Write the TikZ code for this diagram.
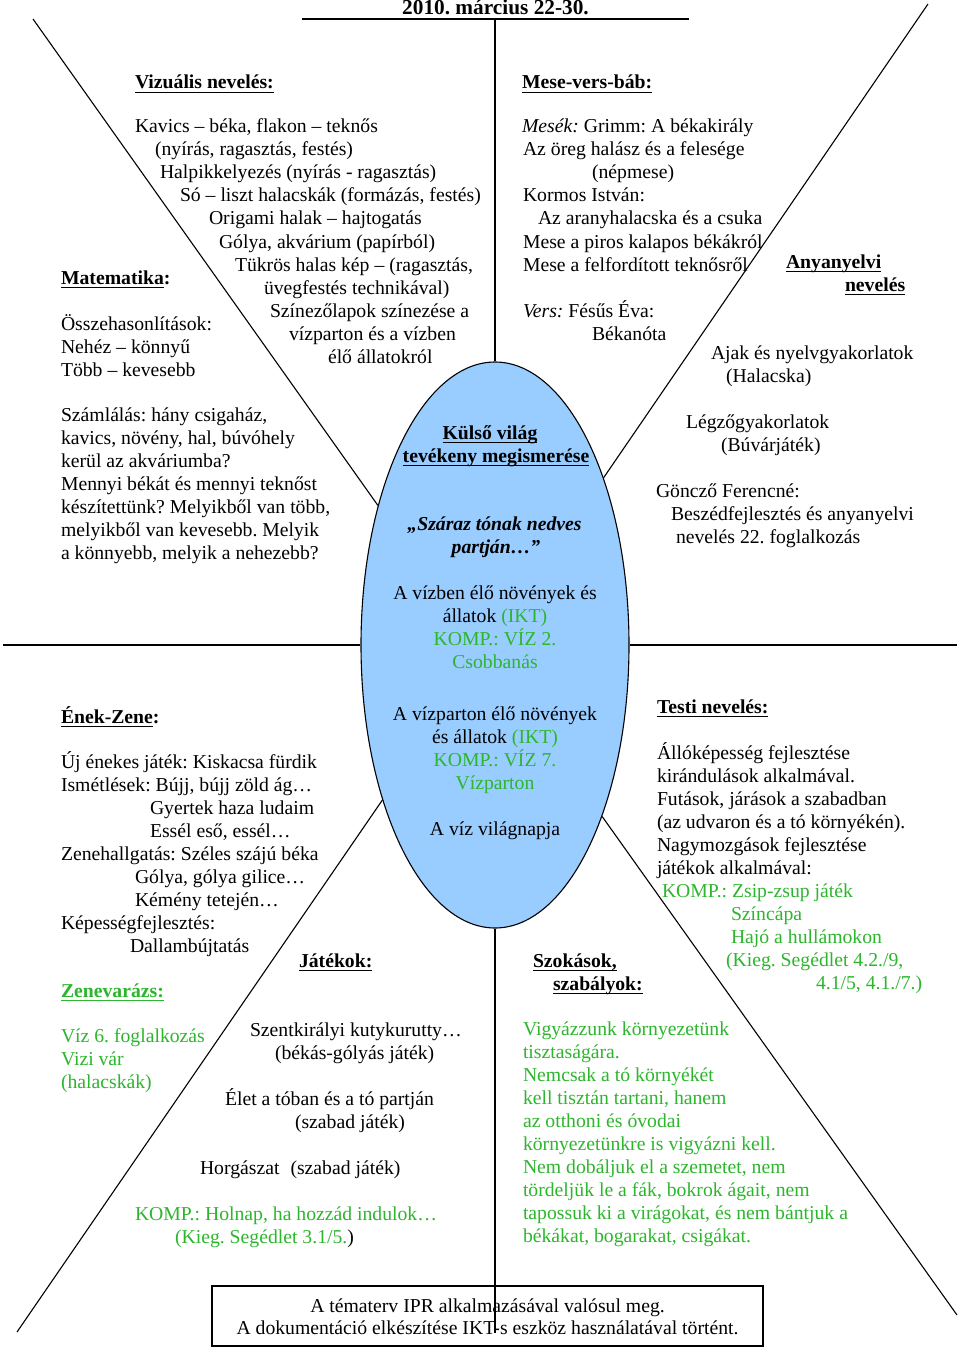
\documentclass[tikz,border=0pt]{standalone}
\usepackage{fontspec}
\setmainfont{Liberation Serif}
\usetikzlibrary{shapes.geometric}
\definecolor{kgreen}{RGB}{45,182,45}
\definecolor{ellblue}{RGB}{153,204,255}
\newcommand\ulx[1]{\setbox0\hbox{#1}\rlap{\rule[-4.2pt]{\wd0}{1.6pt}}\box0}
\newcommand\fsz{\fontsize{19.7}{23}\selectfont\frenchspacing}
\begin{document}
\begin{tikzpicture}[x=1pt,y=-1pt,
  tx/.style={anchor=base west,inner sep=0pt,outer sep=0pt,font=\fsz},
  txc/.style={anchor=base,inner sep=0pt,outer sep=0pt,font=\fsz},
  gr/.style={text=kgreen},
  conn/.style={line width=1.1pt,black}]
\useasboundingbox (0,0) rectangle (960,1348);
\fill[white] (0,0) rectangle (960,1348);

% central ellipse
\node[ellipse,draw,line width=1.1pt,fill=ellblue,minimum width=268pt,minimum height=566pt,inner sep=0pt] (ell) at (495,645) {};
% bottom box
\node[draw,line width=1.1pt,minimum width=551pt,minimum height=60pt,inner sep=0pt] (box) at (487.5,1316) {};

% connector end points
\coordinate (hl) at (302,19); \coordinate (hr) at (689,19); \coordinate (ht) at (495,19);
\coordinate (ul) at (33,19); \coordinate (ur) at (928,4);
\coordinate (ll) at (17,1332); \coordinate (lr) at (957,1315);
\coordinate (ml) at (3,645); \coordinate (mr) at (957,645);
\coordinate (bt) at (495,1333);

\draw[conn] (hl) -- (hr);
\draw[conn] (ht) -- (ell.north);
\draw[conn] (ell.south) -- (bt);
\draw[conn] (ml) -- (ell.west);
\draw[conn] (ell.east) -- (mr);
\draw[conn] (ul) -- (ell.130);
\draw[conn] (ur) -- (ell.57);
\draw[conn] (ll) -- (ell.234);
\draw[conn] (lr) -- (ell.302);

% header
\node[anchor=base,inner sep=0pt,font=\fontsize{21.3}{24}\selectfont\bfseries\frenchspacing] (head) at (495.5,15) {2010. március 22-30.};

% Vizualis
\node[tx] (vizh) at (135,89) {\ulx{\textbf{Vizuális nevelés:}}};
\foreach \px/\py/\mytext [count=\i] in {
  135/133/{Kavics – béka, flakon – teknős},
  155/156/{(nyírás, ragasztás, festés)},
  160/179/{Halpikkelyezés (nyírás - ragasztás)},
  180/202/{Só – liszt halacskák (formázás, festés)},
  209/225/{Origami halak – hajtogatás},
  219/248/{Gólya, akvárium (papírból)},
  235/271/{Tükrös halas kép – (ragasztás,},
  264/294/{üvegfestés technikával)},
  270/317/{Színezőlapok színezése a},
  289/340/{vízparton és a vízben},
  328/363/{élő állatokról}}
  \node[tx] (viz\i) at (\px,\py) {\mytext};

% Matematika
\node[tx] (math) at (61,284) {\textbf{\ulx{Matematika}:}};
\foreach \px/\py/\mytext [count=\i] in {
  61/330/{Összehasonlítások:},
  61/353/{Nehéz – könnyű},
  61/376/{Több – kevesebb},
  61/421/{Számlálás: hány csigaház,},
  61/444/{kavics, növény, hal, búvóhely},
  61/467/{kerül az akváriumba?},
  61/490/{Mennyi békát és mennyi teknőst},
  61/513/{készítettünk? Melyikből van több,},
  61/536/{melyikből van kevesebb. Melyik},
  61/559/{a könnyebb, melyik a nehezebb?}}
  \node[tx] (mat\i) at (\px,\py) {\mytext};

% Mese-vers-bab
\node[tx] (mese) at (522,89) {\ulx{\textbf{Mese-vers-báb:}}};
\foreach \px/\py/\mytext [count=\i] in {
  522/133/{\textit{Mesék:} Grimm: A békakirály},
  523/156/{Az öreg halász és a felesége},
  592/179/{(népmese)},
  523/202/{Kormos István:},
  538/225/{Az aranyhalacska és a csuka},
  523/248/{Mese a piros kalapos békákról},
  523/271/{Mese a felfordított teknősről},
  523/317/{\textit{Vers:} Fésűs Éva:},
  592/340/{Békanóta}}
  \node[tx] (mes\i) at (\px,\py) {\mytext};

% Anyanyelvi
\node[tx] (anyh1) at (786,268) {\ulx{\textbf{Anyanyelvi}}};
\node[tx] (anyh2) at (845,291) {\ulx{\textbf{nevelés}}};
\foreach \px/\py/\mytext [count=\i] in {
  711/359/{Ajak és nyelvgyakorlatok},
  726/382/{(Halacska)},
  686/428/{Légzőgyakorlatok},
  721/451/{(Búvárjáték)},
  656/497/{Göncző Ferencné:},
  671/520/{Beszédfejlesztés és anyanyelvi},
  676/543/{nevelés 22. foglalkozás}}
  \node[tx] (any\i) at (\px,\py) {\mytext};

% ellipse texts
\node[txc] (k1) at (490,439) {\ulx{\textbf{Külső világ}}};
\node[txc] (k2) at (496,462) {\ulx{\textbf{tevékeny megismerése}}};
\node[txc] (k3) at (494.5,530) {\textbf{\textit{„Száraz tónak nedves}}};
\node[txc] (k4) at (496,553) {\textbf{\textit{partján…”}}};
\node[txc] (k5) at (495,599) {A vízben élő növények és};
\node[txc] (k6) at (495,622) {állatok \textcolor{kgreen}{(IKT)}};
\node[txc,gr] (k7) at (495,645) {KOMP.: VÍZ 2.};
\node[txc,gr] (k8) at (495,668) {Csobbanás};
\node[txc] (k9) at (495,720) {A vízparton élő növények};
\node[txc] (k10) at (495,743) {és állatok \textcolor{kgreen}{(IKT)}};
\node[txc,gr] (k11) at (495,766) {KOMP.: VÍZ 7.};
\node[txc,gr] (k12) at (495,789) {Vízparton};
\node[txc] (k13) at (495,835) {A víz világnapja};

% Enek-Zene
\node[tx] (enek) at (61,723) {\textbf{\ulx{Ének-Zene}:}};
\foreach \px/\py/\mytext [count=\i] in {
  61/768/{Új énekes játék: Kiskacsa fürdik},
  61/791/{Ismétlések: Bújj, bújj zöld ág…},
  150/814/{Gyertek haza ludaim},
  150/837/{Essél eső, essél…},
  61/860/{Zenehallgatás: Széles szájú béka},
  135/883/{Gólya, gólya gilice…},
  135/906/{Kémény tetején…},
  61/929/{Képességfejlesztés:},
  130/952/{Dallambújtatás}}
  \node[tx] (ene\i) at (\px,\py) {\mytext};
\node[tx,gr] (zene) at (61,997) {\ulx{\textbf{Zenevarázs:}}};
\node[tx,gr] (zen1) at (61,1042) {Víz 6. foglalkozás};
\node[tx,gr] (zen2) at (61,1065) {Vizi vár};
\node[tx,gr] (zen3) at (61,1088) {(halacskák)};

% Jatekok
\node[tx] (jat) at (299,967) {\ulx{\textbf{Játékok:}}};
\node[tx] (jat1) at (250,1036) {Szentkirályi kutykurutty…};
\node[tx] (jat2) at (275,1059) {(békás-gólyás játék)};
\node[tx] (jat3) at (225,1105) {Élet a tóban és a tó partján};
\node[tx] (jat4) at (295,1128) {(szabad játék)};
\node[tx] (jat5) at (200,1174) {Horgászat\hspace{11pt}(szabad játék)};
\node[tx,gr] (jat6) at (135,1220) {KOMP.: Holnap, ha hozzád indulok…};
\node[tx] (jat7) at (175,1243) {\textcolor{kgreen}{(Kieg. Segédlet 3.1/5.})};

% Testi neveles
\node[tx] (test) at (657,713) {\ulx{\textbf{Testi nevelés:}}};
\foreach \px/\py/\mytext [count=\i] in {
  657/759/{Állóképesség fejlesztése},
  657/782/{kirándulások alkalmával.},
  657/805/{Futások, járások a szabadban},
  657/828/{(az udvaron és a tó környékén).},
  657/851/{Nagymozgások fejlesztése},
  657/874/{játékok alkalmával:}}
  \node[tx] (tes\i) at (\px,\py) {\mytext};
\node[tx,gr] (tg1) at (662,897) {KOMP.: Zsip-zsup játék};
\node[tx,gr] (tg2) at (731,920) {Színcápa};
\node[tx,gr] (tg3) at (731,943) {Hajó a hullámokon};
\node[tx,gr] (tg4) at (726,966) {(Kieg. Segédlet 4.2./9,};
\node[tx,gr] (tg5) at (816,989) {4.1/5, 4.1./7.)};

% Szokasok
\node[tx] (szo1) at (533,967) {\ulx{\textbf{Szokások,}}};
\node[tx] (szo2) at (553,990) {\ulx{\textbf{szabályok:}}};
\foreach \mytext [count=\i from 0] in {
  {Vigyázzunk környezetünk},
  {tisztaságára.},
  {Nemcsak a tó környékét},
  {kell tisztán tartani, hanem},
  {az otthoni és óvodai},
  {környezetünkre is vigyázni kell.},
  {Nem dobáljuk el a szemetet, nem},
  {tördeljük le a fák, bokrok ágait, nem},
  {tapossuk ki a virágokat, és nem bántjuk a},
  {békákat, bogarakat, csigákat.}}
  \node[tx,gr] (szg\i) at (523,1035+23*\i) {\mytext};

% box texts
\node[txc] (b1) at (487.5,1312) {A tématerv IPR alkalmazásával valósul meg.};
\node[txc] (b2) at (487.5,1334) {A dokumentáció elkészítése IKT-s eszköz használatával történt.};
\end{tikzpicture}
\end{document}
